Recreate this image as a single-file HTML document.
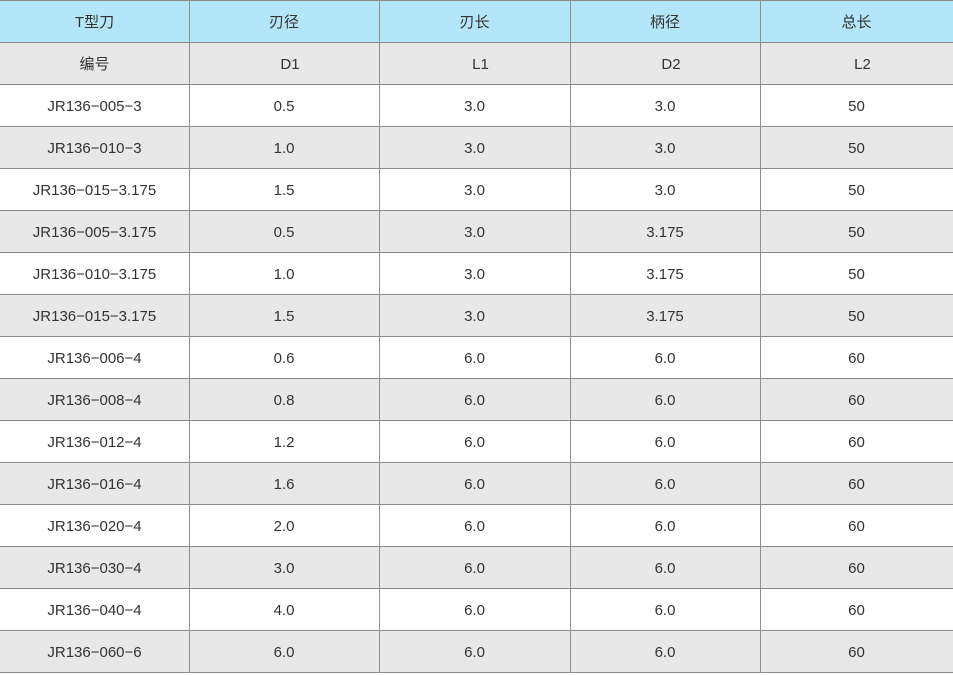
<!DOCTYPE html>
<html><head><meta charset="utf-8"><style>
body{margin:0;width:953px;height:673px;overflow:hidden;background:#fff;font-family:"Liberation Sans","Noto Sans CJK SC",sans-serif;}
.r{position:absolute;left:0;width:953px;height:41px;border-top:1px solid #8a8a8a;}
.c{position:absolute;top:0;height:41px;line-height:44px;text-align:center;font-size:15px;color:#333;}
.v{position:absolute;top:0;width:1px;height:673px;background:#8f8f8f;}
</style></head><body>
<div id="t"></div>
<script>
var rows=[["T型刀","刃径","刃长","柄径","总长"],["编号","D1","L1","D2","L2"],
["JR136-005-3","0.5","3.0","3.0","50"],["JR136-010-3","1.0","3.0","3.0","50"],["JR136-015-3.175","1.5","3.0","3.0","50"],
["JR136-005-3.175","0.5","3.0","3.175","50"],["JR136-010-3.175","1.0","3.0","3.175","50"],["JR136-015-3.175","1.5","3.0","3.175","50"],
["JR136-006-4","0.6","6.0","6.0","60"],["JR136-008-4","0.8","6.0","6.0","60"],["JR136-012-4","1.2","6.0","6.0","60"],
["JR136-016-4","1.6","6.0","6.0","60"],["JR136-020-4","2.0","6.0","6.0","60"],["JR136-030-4","3.0","6.0","6.0","60"],
["JR136-040-4","4.0","6.0","6.0","60"],["JR136-060-6","6.0","6.0","6.0","60"]];
var xs=[0,189,379,570,760,953],h="";
rows.forEach(function(r,i){
var bg=i==0?"#b3e6f8":(i%2==1?"#e8e8e8":"#fff");
h+='<div class="r" style="top:'+(i*42)+'px;background:'+bg+'">';
r.forEach(function(t,j){var off=(i==1&&j>0)?6:0;h+='<div class="c" style="left:'+(xs[j]+off)+'px;width:'+(xs[j+1]-xs[j])+'px">'+t.replace(/-/g,'−')+'</div>';});
h+='</div>';});
h+='<div style="position:absolute;left:0;top:672px;width:953px;height:1px;background:#8a8a8a"></div>';
[189,379,570,760].forEach(function(x){h+='<div class="v" style="left:'+x+'px"></div>';});
document.getElementById("t").innerHTML=h;
</script>
</body></html>
